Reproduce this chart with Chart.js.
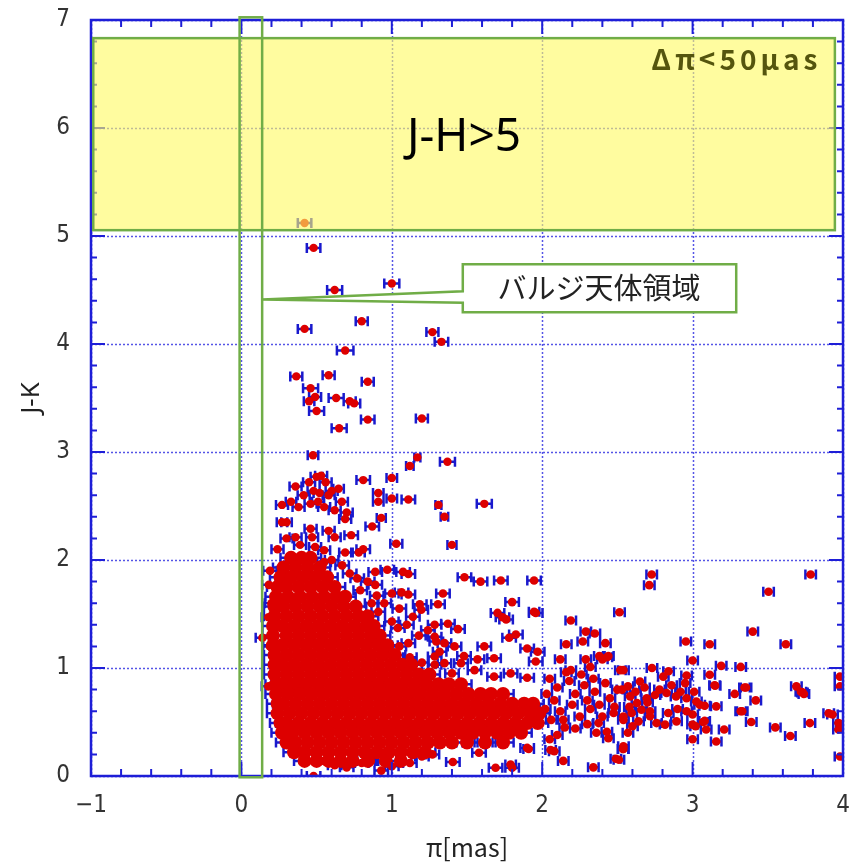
<!DOCTYPE html>
<html><head><meta charset="utf-8">
<script src="https://cdn.jsdelivr.net/npm/chart.js@4.4.1/dist/chart.umd.min.js"></script>
<style>html,body{margin:0;padding:0;background:#fff;}canvas{display:block;}</style>
</head><body>
<canvas id="c" width="850" height="862"></canvas>
<script>
// ---------- data ----------
const xTicks = [-1, 0, 1, 2, 3, 4];
const yTicks = [0, 1, 2, 3, 4, 5, 6, 7];
const xTitle = 'π[mas]';
const yTitle = 'J-K';

// isolated stars: [parallax, J-K, parallax error]
const isolatedStars = [
 [0.42,5.12,0.045],[0.48,4.89,0.045],[0.62,4.50,0.05],[1.00,4.56,0.05],[0.42,4.14,0.045],
 [0.80,4.21,0.04],[1.27,4.11,0.04],[1.33,4.02,0.045],[0.69,3.94,0.055],[0.365,3.70,0.04],
 [0.58,3.71,0.04],[0.84,3.65,0.04],[0.46,3.59,0.05],[0.49,3.51,0.04],[0.45,3.47,0.035],
 [0.63,3.50,0.05],[0.72,3.47,0.04],[0.75,3.45,0.04],[0.50,3.38,0.05],[0.84,3.30,0.045],
 [1.20,3.31,0.04],[0.65,3.22,0.05],[0.476,2.97,0.035],[1.17,2.95,0.02],[1.12,2.87,0.025],
 [1.37,2.91,0.05],[0.53,2.78,0.04],[0.50,2.77,0.04],[0.81,2.74,0.045],[1.00,2.76,0.035],
 [0.36,2.68,0.04],[0.414,2.60,0.04],[0.45,2.72,0.04],[0.56,2.72,0.04],[0.60,2.64,0.04],
 [0.646,2.66,0.035],[0.52,2.62,0.04],[0.48,2.64,0.04],[0.58,2.60,0.04],[0.91,2.62,0.035],
 [0.91,2.54,0.035],[1.00,2.57,0.035],[1.11,2.56,0.045],[0.27,2.51,0.04],[0.38,2.49,0.04],
 [0.46,2.52,0.04],[0.51,2.54,0.04],[0.55,2.49,0.04],[0.62,2.46,0.04],[0.668,2.54,0.04],
 [0.70,2.44,0.04],[1.31,2.51,0.02],[1.615,2.52,0.05],[1.35,2.40,0.025],[0.93,2.39,0.03],
 [0.69,2.38,0.04],[0.27,2.35,0.035],[0.30,2.35,0.035],[0.46,2.29,0.04],[0.58,2.27,0.04],
 [0.87,2.31,0.045],[0.73,2.23,0.045],[1.03,2.15,0.04],[1.40,2.14,0.03],[0.81,2.10,0.045],
 [0.69,2.07,0.04],[0.24,2.10,0.04],[0.36,2.21,0.04],[0.62,2.21,0.04],[0.47,2.21,0.04],
 [0.30,2.20,0.04],[0.39,2.14,0.04],[0.49,2.12,0.04],[0.55,2.09,0.04],[0.78,2.07,0.04],
 [0.33,2.54,0.035]
];

// stars around the edge of the bulge clump: [parallax, J-K]
const fringeStars = [
 [0.89,1.89],[0.97,1.91],[1.075,1.89],[1.11,1.87],[1.483,1.84],[1.59,1.80],[1.725,1.81],[1.946,1.81],
 [0.89,1.77],[0.90,1.67],[1.00,1.69],[1.065,1.70],[1.11,1.68],[1.34,1.69],[1.307,1.59],[1.186,1.59],
 [1.80,1.61],[1.957,1.51],[1.703,1.51],[1.76,1.45],[1.736,1.47],[1.285,1.40],[1.373,1.41],[1.44,1.36],
 [1.78,1.28],[1.825,1.31],[1.615,1.20],[1.90,1.18],[1.97,1.15],[1.48,1.11],[1.57,1.08],[1.68,1.09],
 [0.72,1.875],[0.77,1.83],[0.79,1.72],[0.866,1.60],[0.91,1.52],[1.00,1.43],[1.04,1.37],[1.11,1.23],
 [1.196,1.54],[1.14,1.475],[1.24,1.35],[1.285,1.29],[1.35,1.23],[1.417,1.20],[1.296,1.245],[1.318,1.15],
 [1.285,1.106],[1.35,1.045],[1.46,1.045],[1.55,0.98],[1.68,0.92],[1.79,0.95],[1.90,0.91],[1.957,1.06],
 [1.285,1.03],[0.183,1.77],[0.14,1.28],[0.19,1.90],[0.18,1.47],[0.19,1.20],[0.18,0.83],[0.20,1.60],
 [0.67,1.95],[0.60,2.00],[0.55,1.98],[0.84,1.80],[0.95,1.60],[1.05,1.55],[1.10,1.40],[1.18,1.30],
 [1.05,1.20],[1.12,1.10],[1.20,1.05],[1.40,0.95],
 [0.48,0.00],[0.62,0.10],[0.70,0.08],[0.80,0.12],[0.93,0.05],[1.00,0.09],[0.86,0.14],[0.55,0.14],
 [1.12,0.12],[1.20,0.18],[1.27,0.20],[1.406,0.13],[1.58,0.215],[1.69,0.077],[1.80,0.077],[1.90,0.26]
];
const fringeErr = 0.045;

// nearby disk stars, parallax 2-4 mas: [parallax, J-K]
const diskStars = [
 [2.728,1.866],[2.712,1.767],[3.785,1.866],[3.505,1.706],[3.40,1.337],[3.62,1.22],[2.955,1.245],[3.114,1.22],
 [3.00,1.07],[2.514,1.516],[2.19,1.44],[2.29,1.337],[2.35,1.32],[2.16,1.22],[2.27,1.245],[2.42,1.23],
 [2.38,1.11],[2.43,1.10],[3.19,1.02],[3.32,1.01],[2.73,1.00],[2.84,0.97],[2.54,0.98],[3.114,0.937],
 [3.15,0.836],[3.355,0.82],[3.42,0.70],[3.32,0.60],[3.69,0.83],[3.73,0.774],[3.39,0.50],[3.55,0.45],
 [3.65,0.37],[3.78,0.49],[3.905,0.58],[3.98,0.92],[3.98,0.83],[3.99,0.48],[3.98,0.18],[3.00,0.34],
 [3.157,0.32],[3.21,0.43],[3.07,0.50],[3.02,0.46],[2.056,0.24],[2.14,0.14],[2.34,0.08],[2.49,0.16],
 [2.54,0.25],[1.79,0.107],[1.91,0.25],[1.946,1.52],[2.12,1.08],[2.19,0.98],[2.29,1.08],[2.40,1.08],
 [2.44,1.11],[2.32,1.01],[2.52,0.98],[2.805,0.92],[2.96,0.93],[2.65,0.875],[2.57,0.83],[2.53,0.80],
 [3.146,0.84],[3.345,0.82],[3.28,0.76],[3.72,0.78],[3.74,0.76],[3.93,0.57],[3.97,0.49],[3.97,0.43],
 [2.585,0.737],[2.63,0.676],[2.695,0.72],[2.75,0.75],[2.827,0.768],[2.89,0.737],[2.96,0.72],[3.01,0.78],
 [3.025,0.69],[3.047,0.66],[3.08,0.65],[3.157,0.645],[2.595,0.584],[2.66,0.614],[2.717,0.60],[2.54,0.55],
 [2.64,0.506],[2.717,0.553],[2.838,0.584],[2.893,0.506],[2.817,0.476],[2.76,0.49],[3.00,0.57],[3.00,0.476],
 [3.08,0.51],[3.09,0.43],[3.33,0.60],[2.57,0.40],[2.537,0.25],[2.51,0.15],[2.08,0.23],[2.43,0.41],
 [2.44,0.35],[2.375,0.49],[2.54,0.276],[2.54,0.52],[2.475,0.584],
 [2.05,0.90],[2.10,0.82],[2.08,0.70],[2.12,0.60],[2.06,0.52],[2.15,0.45],[2.18,0.88],[2.22,0.76],
 [2.20,0.66],[2.25,0.55],[2.28,0.84],[2.30,0.70],[2.32,0.62],[2.35,0.78],[2.38,0.66],[2.40,0.55],
 [2.42,0.86],[2.45,0.72],[2.48,0.64],[2.50,0.80],[2.26,0.94],[2.34,0.90],[2.16,0.96],[2.58,0.64],
 [2.62,0.78],[2.68,0.82],[2.70,0.68],[2.78,0.80],[2.86,0.84],[2.92,0.78],[2.95,0.86],[2.10,0.38],
 [2.22,0.44],[2.30,0.48],[2.36,0.40],[2.05,0.34],[2.90,0.62],[2.96,0.60],[2.60,0.46],[2.02,0.62],
 [2.03,0.76],[2.14,0.52]
];
const diskErr = 0.035;

// dense bulge clump, read row by row: [J-K, [parallax values]]
const clumpRows = [
 [2.02,[0.33,0.40,0.46]],
 [1.93,[0.28,0.36,0.44,0.52]],
 [1.84,[0.26,0.33,0.41,0.49,0.57]],
 [1.75,[0.24,0.30,0.38,0.46,0.54,0.62]],
 [1.66,[0.23,0.31,0.39,0.47,0.55,0.63,0.69]],
 [1.57,[0.22,0.28,0.36,0.44,0.52,0.60,0.68,0.76]],
 [1.48,[0.22,0.30,0.38,0.46,0.54,0.62,0.70,0.78,0.84]],
 [1.39,[0.21,0.27,0.35,0.43,0.51,0.59,0.67,0.75,0.83,0.88]],
 [1.30,[0.21,0.30,0.38,0.46,0.54,0.62,0.70,0.78,0.86,0.92]],
 [1.21,[0.21,0.27,0.35,0.43,0.51,0.59,0.67,0.75,0.83,0.91,0.97]],
 [1.12,[0.22,0.30,0.38,0.46,0.54,0.62,0.70,0.78,0.86,0.94,1.02]],
 [1.03,[0.22,0.27,0.35,0.43,0.51,0.59,0.67,0.75,0.83,0.91,0.99,1.07,1.13]],
 [0.94,[0.22,0.30,0.38,0.46,0.54,0.62,0.70,0.78,0.86,0.94,1.02,1.10,1.18,1.25]],
 [0.85,[0.23,0.27,0.35,0.43,0.51,0.59,0.67,0.75,0.83,0.91,0.99,1.07,1.15,1.23,1.31,1.38,1.46]],
 [0.76,[0.23,0.31,0.39,0.47,0.55,0.63,0.71,0.79,0.87,0.95,1.03,1.11,1.19,1.27,1.35,1.43,1.51,1.59,1.66,1.74]],
 [0.67,[0.24,0.28,0.36,0.44,0.52,0.60,0.68,0.76,0.84,0.92,1.00,1.08,1.16,1.24,1.32,1.40,1.48,1.56,1.64,1.72,1.80,1.88,1.94]],
 [0.58,[0.24,0.32,0.40,0.48,0.56,0.64,0.72,0.80,0.88,0.96,1.04,1.12,1.20,1.28,1.36,1.44,1.52,1.60,1.68,1.76,1.84,1.92,1.98]],
 [0.49,[0.26,0.30,0.38,0.46,0.54,0.62,0.70,0.78,0.86,0.94,1.02,1.10,1.18,1.26,1.34,1.42,1.50,1.58,1.66,1.74,1.82,1.90,1.97]],
 [0.40,[0.27,0.34,0.42,0.50,0.58,0.66,0.74,0.82,0.90,0.98,1.06,1.14,1.22,1.30,1.38,1.46,1.54,1.62,1.70,1.78,1.86]],
 [0.31,[0.30,0.36,0.44,0.52,0.60,0.68,0.76,0.84,0.92,1.00,1.08,1.16,1.24,1.32,1.40,1.50,1.62,1.74]],
 [0.22,[0.35,0.42,0.50,0.58,0.66,0.74,0.82,0.90,0.98,1.06,1.14,1.22]],
 [0.14,[0.42,0.50,0.58,0.66,0.74,0.84,0.96,1.06]]
];
const clumpErr = 0.07;

// annotations (data units)
const selectLabel = 'Δπ<50μas';
const colourCutLabel = 'J-H>5';
const bulgeLabel = 'バルジ天体領域';
const colourCutBox = {x0:-0.985, x1:3.946, y0:5.054, y1:6.832};
const bulgeStrip = {x0:-0.012, x1:0.138, y0:-0.012, y1:7.025};
const calloutBox = {x0:1.472, x1:3.29, y0:4.295, y1:4.738, notchTop:4.489, notchBottom:4.381, tipX:0.139, tipY:4.412};
const selectLabelPos = {x:3.83, y:6.54};
const colourCutLabelPos = {x:1.48, y:5.91};
const bulgeLabelPos = {x:2.377, y:4.515};

// ---------- styles ----------
const C = {
  red:'rgb(221,0,0)', blue:'rgb(25,25,205)', grid:'rgb(85,85,230)', frame:'rgb(30,30,215)',
  green:'rgb(112,173,71)', yellow:'rgba(255,250,100,0.62)', tick:'#333'
};

const toPts = (arr, err) => arr.map(p => ({x:p[0], y:p[1], e: p.length > 2 ? p[2] : err}));
const clumpPts = [];
clumpRows.forEach(([y, xs]) => xs.forEach(x => clumpPts.push({x, y, e:clumpErr})));

const frame = {
  id:'frame',
  beforeDatasetsDraw(chart){
    const {ctx, chartArea:a, scales:{x, y}} = chart;
    ctx.save();
    ctx.strokeStyle = C.grid; ctx.lineWidth = 1.5; ctx.setLineDash([2,2]);
    xTicks.forEach(v => { const p = Math.round(x.getPixelForValue(v))+0.5; ctx.beginPath(); ctx.moveTo(p,a.top); ctx.lineTo(p,a.bottom); ctx.stroke(); });
    yTicks.forEach(v => { const p = Math.round(y.getPixelForValue(v))+0.5; ctx.beginPath(); ctx.moveTo(a.left,p); ctx.lineTo(a.right,p); ctx.stroke(); });
    ctx.setLineDash([]);
    ctx.beginPath(); ctx.rect(a.left, a.top, a.right-a.left, a.bottom-a.top); ctx.clip();
    ctx.strokeStyle = C.blue; ctx.lineWidth = 2.5;
    ctx.beginPath();
    chart.data.datasets.forEach((ds, di) => {
      const meta = chart.getDatasetMeta(di);
      const h = ds.capHalf;
      meta.data.forEach((el, i) => {
        const d = ds.data[i];
        const x1 = x.getPixelForValue(d.x - d.e), x2 = x.getPixelForValue(d.x + d.e), py = el.y;
        ctx.moveTo(x1, py); ctx.lineTo(x2, py);
        ctx.moveTo(x1, py-h); ctx.lineTo(x1, py+h);
        ctx.moveTo(x2, py-h); ctx.lineTo(x2, py+h);
      });
    });
    ctx.stroke();
    ctx.restore();
  },
  afterDatasetsDraw(chart){
    const {ctx, chartArea:a, scales:{x, y}} = chart;
    ctx.save();
    // frame
    ctx.strokeStyle = C.frame; ctx.lineWidth = 2.5;
    ctx.strokeRect(a.left, a.top, a.right-a.left, a.bottom-a.top);
    // ticks (inward)
    ctx.lineWidth = 2; ctx.beginPath();
    for (let i = 0; i <= 25; i++) {
      const v = -1 + i*0.2, p = x.getPixelForValue(v);
      const L = (i % 5 === 0) ? 14 : 7;
      ctx.moveTo(p, a.bottom); ctx.lineTo(p, a.bottom - L);
      ctx.moveTo(p, a.top); ctx.lineTo(p, a.top + L);
    }
    for (let i = 0; i <= 35; i++) {
      const v = i*0.2, p = y.getPixelForValue(v);
      const L = (i % 5 === 0) ? 14 : 6;
      ctx.moveTo(a.left, p); ctx.lineTo(a.left + L, p);
      ctx.moveTo(a.right, p); ctx.lineTo(a.right - L, p);
    }
    ctx.stroke();
    // yellow colour-cut region
    const X = v => x.getPixelForValue(v), Y = v => y.getPixelForValue(v);
    const b = colourCutBox;
    ctx.fillStyle = C.yellow;
    ctx.fillRect(X(b.x0), Y(b.y1), X(b.x1)-X(b.x0), Y(b.y0)-Y(b.y1));
    ctx.strokeStyle = C.green; ctx.lineWidth = 2.5;
    ctx.strokeRect(X(b.x0), Y(b.y1), X(b.x1)-X(b.x0), Y(b.y0)-Y(b.y1));
    // bulge strip
    const s = bulgeStrip;
    ctx.strokeRect(X(s.x0), Y(s.y1), X(s.x1)-X(s.x0), Y(s.y0)-Y(s.y1));
    // callout
    const c = calloutBox;
    ctx.beginPath();
    ctx.moveTo(X(c.x0), Y(c.y1));
    ctx.lineTo(X(c.x1), Y(c.y1));
    ctx.lineTo(X(c.x1), Y(c.y0));
    ctx.lineTo(X(c.x0), Y(c.y0));
    ctx.lineTo(X(c.x0), Y(c.notchBottom));
    ctx.lineTo(X(c.tipX), Y(c.tipY));
    ctx.lineTo(X(c.x0), Y(c.notchTop));
    ctx.closePath();
    ctx.fillStyle = '#fff'; ctx.fill();
    ctx.stroke();
    // texts
    ctx.fillStyle = '#55550e';
    ctx.font = 'bold 28px "Noto Sans CJK JP", "Noto Sans", sans-serif';
    ctx.letterSpacing = '4px';
    ctx.textAlign = 'right'; ctx.textBaseline = 'alphabetic';
    ctx.fillText(selectLabel, X(selectLabelPos.x) + 4, Y(selectLabelPos.y));
    ctx.letterSpacing = '0px';
    ctx.fillStyle = '#000';
    ctx.font = '46px "Noto Sans", "Open Sans", sans-serif';
    ctx.textAlign = 'center'; ctx.textBaseline = 'middle';
    ctx.fillText(colourCutLabel, X(colourCutLabelPos.x), Y(colourCutLabelPos.y));
    ctx.fillStyle = '#222';
    ctx.font = '29px "Noto Sans CJK JP", sans-serif';
    ctx.fillText(bulgeLabel, X(bulgeLabelPos.x), Y(bulgeLabelPos.y));
    ctx.restore();
  }
};

const tickFont = {family:'"Liberation Sans Narrow", "DejaVu Sans Condensed", "Liberation Sans", sans-serif', size:24};

new Chart(document.getElementById('c'), {
  type:'scatter',
  data:{datasets:[
    {data:clumpPts, pointRadius:7, pointHoverRadius:7, pointBackgroundColor:C.red, pointBorderWidth:0, clip:0, capHalf:5},
    {data:toPts(diskStars, diskErr), pointRadius:4.3, pointHoverRadius:4.3, pointBackgroundColor:C.red, pointBorderWidth:0, clip:0, capHalf:5},
    {data:toPts(fringeStars, fringeErr), pointRadius:4.3, pointHoverRadius:4.3, pointBackgroundColor:C.red, pointBorderWidth:0, clip:0, capHalf:5},
    {data:toPts(isolatedStars), pointRadius:4.2, pointHoverRadius:4.2, pointBackgroundColor:C.red, pointBorderWidth:0, clip:0, capHalf:5}
  ]},
  options:{
    responsive:false, animation:false, devicePixelRatio:1, events:[],
    layout:{padding:{top:20, right:2, left:0, bottom:0}},
    plugins:{legend:{display:false}, tooltip:{enabled:false}},
    scales:{
      x:{type:'linear', min:-1, max:4,
        afterBuildTicks:s => { s.ticks = xTicks.map(v => ({value:v})); },
        ticks:{font:tickFont, color:C.tick, padding:15, maxRotation:0, autoSkip:false,
          callback:v => v < 0 ? '−' + Math.abs(v) : String(v)},
        grid:{display:false, drawTicks:false}, border:{display:false},
        title:{display:true, text:xTitle, color:'#222', font:{family:'"Noto Sans CJK JP", sans-serif', size:25}, padding:{top:0, bottom:0}},
        afterFit(s){ s.height = 86; s.paddingLeft = 0; s.paddingRight = 0; }
      },
      y:{type:'linear', min:0, max:7,
        afterBuildTicks:s => { s.ticks = yTicks.map(v => ({value:v})); },
        ticks:{font:tickFont, color:C.tick, padding:21, autoSkip:false},
        grid:{display:false, drawTicks:false}, border:{display:false},
        title:{display:true, text:yTitle, color:'#222', font:{family:'"Noto Sans", sans-serif', size:26}, padding:{top:16, bottom:0}},
        afterFit(s){ s.width = 91; s.paddingTop = 0; s.paddingBottom = 0; }
      }
    }
  },
  plugins:[frame]
});
</script>
</body></html>
